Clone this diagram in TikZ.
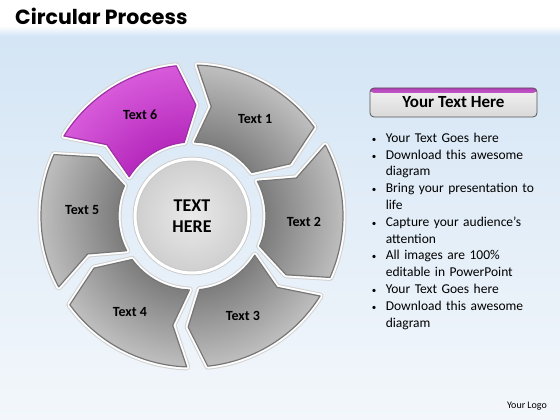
\documentclass[tikz,border=0pt]{standalone}
\usepackage{fontspec}
\setmainfont{Carlito}
\newfontfamily\titlefont{Poppins}
\usetikzlibrary{positioning}
\definecolor{segdark}{HTML}{7E7E7E}
\definecolor{seglight}{HTML}{C2C2C2}
\definecolor{segedge}{HTML}{767676}
\definecolor{purpdark}{HTML}{B62ABD}
\definecolor{purplight}{HTML}{D95DDC}
\definecolor{purpedge}{HTML}{9E30A6}
\definecolor{bgtop}{HTML}{D4E5F5}
\definecolor{bgbottom}{HTML}{F3F7FB}
\definecolor{tabpurple}{HTML}{B53DBB}
\pgfdeclareradialshading{wheelgray}{\pgfpoint{0bp}{0bp}}{color(0bp)=(segdark); color(12bp)=(segdark); color(25bp)=(seglight); color(50bp)=(seglight)}
\pgfdeclareradialshading{wheelpurple}{\pgfpoint{0bp}{0bp}}{color(0bp)=(purpdark); color(12bp)=(purpdark); color(25bp)=(purplight); color(50bp)=(purplight)}
\newcommand\bulletline[1]{\par\hangindent=14pt\hangafter=1\noindent\makebox[14pt][l]{\fontsize{9}{9}\selectfont\textbullet}#1}
\tikzset{
  segment/.style={draw=segedge, line width=1.2pt, line join=round,
    preaction={draw=gray!35, line width=7pt, line join=round},
    preaction={draw=white, line width=5pt, line join=round},
    path picture={\shade[shading=#1] (hub.center) circle (155pt);}},
  seglabel/.style={font=\fontsize{14}{16}\selectfont\bfseries},
  hubnode/.style={circle, minimum size=114pt, draw=gray!45, line width=0.8pt,
    double=white, double distance=3pt, inner color=gray!17, outer color=gray!38,
    align=center, font=\fontsize{18}{21}\selectfont\bfseries},
  headbox/.style={draw=gray!65!black, line width=0.8pt, rounded corners=4pt,
    top color=gray!10, bottom color=gray!30, minimum width=167pt, minimum height=29pt,
    font=\fontsize{17}{19}\selectfont\bfseries,
    path picture={\shade[top color=tabpurple, bottom color=gray!10]
      (path picture bounding box.north west) rectangle ([yshift=-5pt]path picture bounding box.north east);}},
  bullets/.style={inner sep=0pt, text width=175pt, align=left,
    font=\fontsize{13.5}{16.8}\selectfont}
}

\begin{document}
\begin{tikzpicture}[x=1pt,y=1pt]
  \useasboundingbox (-192,-204) rectangle (368,216);
  % background
  \fill[white] (-192,-204) rectangle (368,216);
  \shade[top color=bgtop, bottom color=bgbottom] (-192,-204) rectangle (368,180);
  \shade[top color=white, bottom color=bgtop] (-192,180) rectangle (368,190);
  \node[anchor=base west, inner sep=0pt, font=\titlefont\bfseries\fontsize{20.5}{22}\selectfont] (title) at (-177,191) {Circular Process};

  % hub and the six arrows
  \node[hubnode] (hub) at (0,0) {TEXT\\HERE};

  \draw[segment=wheelpurple, draw=purpedge] (148:151) arc[start angle=148, end angle=96, radius=151pt] -- (88:111) -- (96:74) arc[start angle=96, end angle=148, radius=74pt] -- (140:111) -- cycle;
  \draw[segment=wheelgray] (88:151) arc[start angle=88, end angle=36, radius=151pt] -- (28:111) -- (36:74) arc[start angle=36, end angle=88, radius=74pt] -- (80:111) -- cycle;
  \draw[segment=wheelgray] (28:151) arc[start angle=28, end angle=-24, radius=151pt] -- (-32:111) -- (-24:74) arc[start angle=-24, end angle=28, radius=74pt] -- (20:111) -- cycle;
  \draw[segment=wheelgray] (-32:151) arc[start angle=-32, end angle=-84, radius=151pt] -- (-92:111) -- (-84:74) arc[start angle=-84, end angle=-32, radius=74pt] -- (-40:111) -- cycle;
  \draw[segment=wheelgray] (-92:151) arc[start angle=-92, end angle=-144, radius=151pt] -- (-152:111) -- (-144:74) arc[start angle=-144, end angle=-92, radius=74pt] -- (-100:111) -- cycle;
  \draw[segment=wheelgray] (208:151) arc[start angle=208, end angle=156, radius=151pt] -- (148:111) -- (156:74) arc[start angle=156, end angle=208, radius=74pt] -- (200:111) -- cycle;

  \node[seglabel] (t6) at (117:114) {Text 6};
  \node[seglabel] (t1) at (57:116) {Text 1};
  \node[seglabel] (t2) at (-3:112) {Text 2};
  \node[seglabel] (t3) at (-63:112) {Text 3};
  \node[seglabel] (t4) at (-123:114) {Text 4};
  \node[seglabel] (t5) at (177:110) {Text 5};

  % right hand panel
  \node[headbox] (head) at (261.5,113.5) {Your Text Here};
  \node[bullets, below=8pt of head.south west, anchor=north west, xshift=2pt] (list) {%
    \bulletline{Your Text Goes here}
    \bulletline{Download this awesome\newline diagram}
    \bulletline{Bring your presentation to\newline life}
    \bulletline{Capture your audience’s\newline attention}
    \bulletline{All images are 100\%\newline editable in PowerPoint}
    \bulletline{Your Text Goes here}
    \bulletline{Download this awesome\newline diagram}\par};
  \node[font=\fontsize{10}{12}\selectfont] (logo) at (335,-190) {Your Logo};
\end{tikzpicture}
\end{document}
